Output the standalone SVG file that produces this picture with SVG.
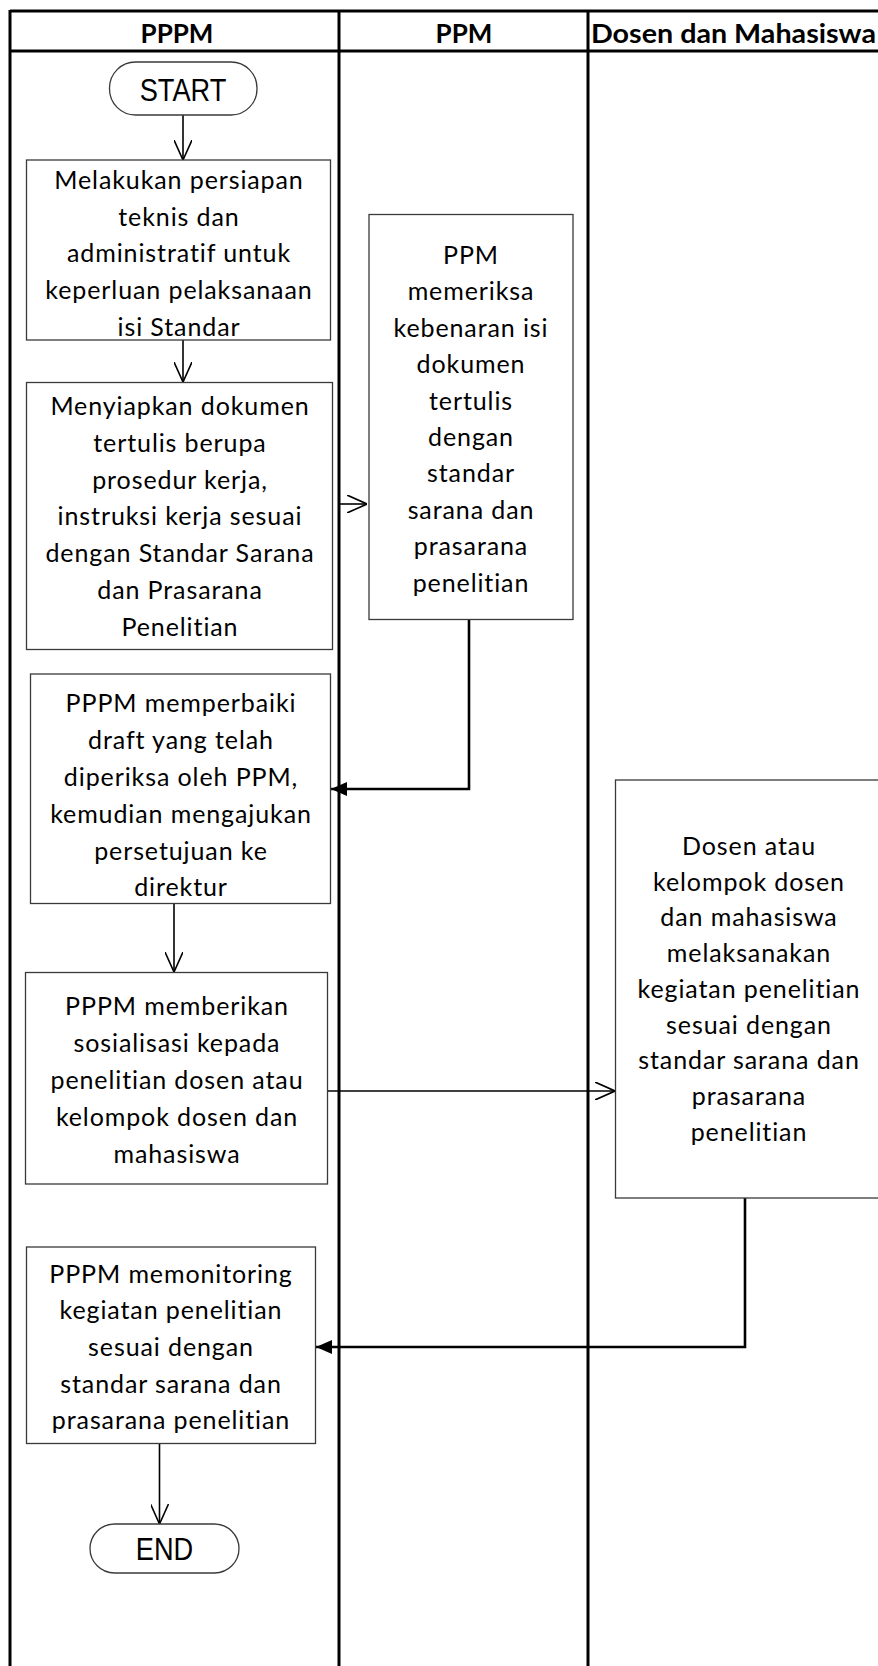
<svg xmlns="http://www.w3.org/2000/svg" width="878" height="1666" viewBox="0 0 878 1666">
<style>
.lane{stroke:#000;stroke-width:3;fill:none}
.box{fill:#fff;stroke:#3a3a3a;stroke-width:1.3}
.term{fill:#fff;stroke:#3a3a3a;stroke-width:1.3}
.t{font-family:Lato,"Open Sans",sans-serif;font-size:25px;letter-spacing:0.9px;text-anchor:middle;fill:#000}
.h{font-family:Lato,"Open Sans",sans-serif;font-size:26px;font-weight:bold;text-anchor:middle;fill:#000}
.tt{font-family:"Liberation Sans",Arial,sans-serif;font-size:32px;text-anchor:middle;fill:#000}
.c{fill:none;stroke:#000;stroke-width:1.6}
.c2{fill:none;stroke:#000;stroke-width:2.6}
</style>
<defs>
<marker id="open" viewBox="0 0 20 18" refX="20" refY="9" markerWidth="20" markerHeight="18" markerUnits="userSpaceOnUse" orient="auto"><path d="M0,0 L20,9 L0,18" fill="none" stroke="#000" stroke-width="1.6"/></marker>
<marker id="filled" viewBox="0 0 16 14" refX="16" refY="7" markerWidth="16" markerHeight="14" markerUnits="userSpaceOnUse" orient="auto"><path d="M0,0 L16,7 L0,14 z" fill="#000"/></marker>
</defs>
<rect width="878" height="1666" fill="#fff"/>
<g id="lanes">
<path class="lane" d="M10,11 H878"/>
<path class="lane" d="M10,51 H878" stroke-width="2.5"/>
<path class="lane" d="M10,10 V1666"/>
<path class="lane" d="M339,11 V1666"/>
<path class="lane" d="M588,11 V1666"/>
<text class="h" x="177" y="43">PPPM</text>
<text class="h" x="464" y="43">PPM</text>
<text class="h" x="591" y="43" style="text-anchor:start" textLength="285" lengthAdjust="spacingAndGlyphs">Dosen dan Mahasiswa</text>
</g>
<g id="connectors">
<path class="c" d="M183,115 V160" marker-end="url(#open)"/>
<path class="c" d="M183,340 V382" marker-end="url(#open)"/>
<path class="c" d="M339,504 H367" marker-end="url(#open)"/>
<path class="c2" d="M469,620 V789 H331" marker-end="url(#filled)"/>
<path class="c" d="M174,904 V972" marker-end="url(#open)"/>
<path class="c" d="M327,1091 H615" stroke-width="2.4" marker-end="url(#open)"/>
<path class="c2" d="M745,1198 V1347 H316" marker-end="url(#filled)"/>
<path class="c" d="M159.5,1443 V1524" marker-end="url(#open)"/>
</g>
<g id="start">
<rect class="term" x="109.5" y="62" width="147.5" height="53" rx="26"/>
<text class="tt" transform="translate(183,101) scale(0.85,1)">START</text>
</g>
<g id="box1">
<rect class="box" x="26.5" y="160" width="304" height="180"/>
<text class="t"><tspan x="179" y="189">Melakukan persiapan</tspan><tspan x="179" y="225.7">teknis dan</tspan><tspan x="179" y="262.4">administratif untuk</tspan><tspan x="179" y="299">keperluan pelaksanaan</tspan><tspan x="179" y="335.5">isi Standar</tspan></text>
</g>
<g id="box2">
<rect class="box" x="26.5" y="382.5" width="306" height="267"/>
<text class="t"><tspan x="180" y="415">Menyiapkan dokumen</tspan><tspan x="180" y="451.8">tertulis berupa</tspan><tspan x="180" y="488.6">prosedur kerja,</tspan><tspan x="180" y="525.4">instruksi kerja sesuai</tspan><tspan x="180" y="562.2">dengan Standar Sarana</tspan><tspan x="180" y="599">dan Prasarana</tspan><tspan x="180" y="635.8">Penelitian</tspan></text>
</g>
<g id="ppm">
<rect class="box" x="369" y="214.5" width="204" height="405"/>
<text class="t"><tspan x="471" y="264">PPM</tspan><tspan x="471" y="300.4">memeriksa</tspan><tspan x="471" y="336.8">kebenaran isi</tspan><tspan x="471" y="373.2">dokumen</tspan><tspan x="471" y="409.6">tertulis</tspan><tspan x="471" y="446">dengan</tspan><tspan x="471" y="482.4">standar</tspan><tspan x="471" y="518.8">sarana dan</tspan><tspan x="471" y="555.2">prasarana</tspan><tspan x="471" y="591.6">penelitian</tspan></text>
</g>
<g id="box3">
<rect class="box" x="30.5" y="674" width="300" height="229.5"/>
<text class="t"><tspan x="181" y="712">PPPM memperbaiki</tspan><tspan x="181" y="749">draft yang telah</tspan><tspan x="181" y="786">diperiksa oleh PPM,</tspan><tspan x="181" y="823">kemudian mengajukan</tspan><tspan x="181" y="860">persetujuan ke</tspan><tspan x="181" y="896">direktur</tspan></text>
</g>
<g id="box4">
<rect class="box" x="25.5" y="972.5" width="302" height="211.5"/>
<text class="t"><tspan x="177" y="1015">PPPM memberikan</tspan><tspan x="177" y="1052">sosialisasi kepada</tspan><tspan x="177" y="1089">penelitian dosen atau</tspan><tspan x="177" y="1126">kelompok dosen dan</tspan><tspan x="177" y="1163">mahasiswa</tspan></text>
</g>
<g id="dosen">
<rect class="box" x="615.5" y="780" width="268" height="418"/>
<text class="t"><tspan x="749" y="855">Dosen atau</tspan><tspan x="749" y="890.7">kelompok dosen</tspan><tspan x="749" y="926.4">dan mahasiswa</tspan><tspan x="749" y="962.1">melaksanakan</tspan><tspan x="749" y="997.8">kegiatan penelitian</tspan><tspan x="749" y="1033.5">sesuai dengan</tspan><tspan x="749" y="1069.2">standar sarana dan</tspan><tspan x="749" y="1104.9">prasarana</tspan><tspan x="749" y="1140.6">penelitian</tspan></text>
</g>
<g id="box5">
<rect class="box" x="26.5" y="1247" width="289" height="196.5"/>
<text class="t"><tspan x="171" y="1282.5">PPPM memonitoring</tspan><tspan x="171" y="1319.2">kegiatan penelitian</tspan><tspan x="171" y="1355.9">sesuai dengan</tspan><tspan x="171" y="1392.6">standar sarana dan</tspan><tspan x="171" y="1429.3">prasarana penelitian</tspan></text>
</g>
<g id="end">
<rect class="term" x="90" y="1524" width="149" height="49" rx="24.5"/>
<text class="tt" transform="translate(164.5,1560) scale(0.85,1)">END</text>
</g>
</svg>
